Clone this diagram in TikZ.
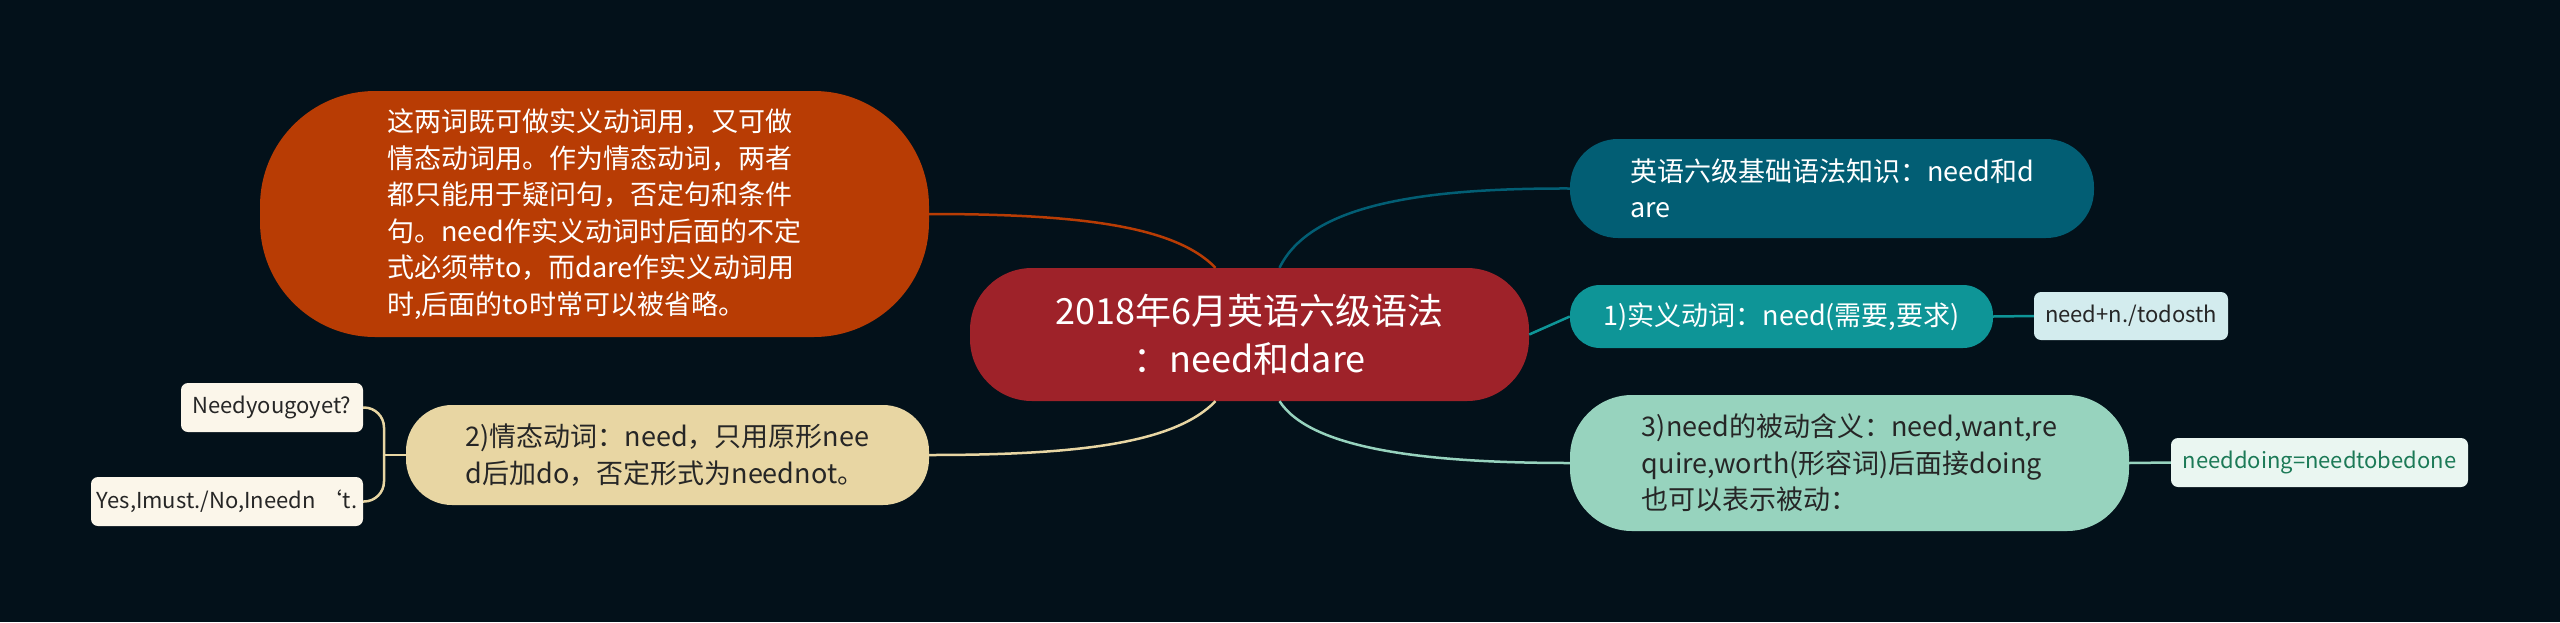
\documentclass[tikz,border=0pt]{standalone}
\usepackage{fontspec}
\setmainfont{Noto Sans CJK SC}
\definecolor{bg}{HTML}{03111A}
\definecolor{cred}{HTML}{9E2229}
\definecolor{corange}{HTML}{B83C04}
\definecolor{ctan}{HTML}{E8D6A3}
\definecolor{cpale}{HTML}{FBF6EA}
\definecolor{cdteal}{HTML}{025E74}
\definecolor{cteal}{HTML}{0E9597}
\definecolor{cice}{HTML}{D3ECEE}
\definecolor{cmint}{HTML}{97D3BE}
\definecolor{cmintbox}{HTML}{EAF6F1}
\definecolor{cmintxt}{HTML}{1C7A57}
\definecolor{cdark}{HTML}{262626}
\tikzset{
  base/.style={inner sep=0pt, align=left, anchor=center},
  bigtxt/.style={font=\fontsize{27}{36.5}\selectfont},
  smalltxt/.style={font=\fontsize{22}{27}\selectfont},
  pill/.style={base, bigtxt, rounded corners=#1},
  tag/.style={base, smalltxt, rounded corners=7pt},
  link/.style={line width=2.5pt},
}
\begin{document}
\begin{tikzpicture}[x=1pt,y=-1pt]
\fill[bg] (0,0) rectangle (2560,622);
\useasboundingbox (0,0) rectangle (2560,622);

% central
\node[base, fill=cred, text=white, rounded corners=62pt, minimum width=559pt, minimum height=133pt,
      align=center, font=\fontsize{36}{48}\selectfont] (center) at (1249.5,334.5)
  {2018年6月英语六级语法\\：need和dare};

% left side
\node[pill=115pt, fill=corange, text=white, minimum width=669pt, minimum height=246pt] (orange) at (594.5,214)
  {这两词既可做实义动词用，又可做\\情态动词用。作为情态动词，两者\\都只能用于疑问句，否定句和条件\\句。need作实义动词时后面的不定\\式必须带to，而dare作实义动词用\\时,后面的to时常可以被省略。};
\node[pill=46pt, fill=ctan, text=cdark, minimum width=523pt, minimum height=100pt] (tan) at (667.5,455)
  {2)情态动词：need，只用原形nee\\d后加do，否定形式为neednot。};
\node[tag, fill=cpale, text=cdark, minimum width=182pt, minimum height=49pt] (q1) at (272,407.5) {Needyougoyet?};
\node[tag, fill=cpale, text=cdark, minimum width=272pt, minimum height=49pt] (q2) at (227,501.5) {Yes,Imust./No,Ineedn ‘t.};

% right side
\node[pill=48pt, fill=cdteal, text=white, minimum width=524pt, minimum height=99pt] (dteal) at (1832,188.5)
  {英语六级基础语法知识：need和d\\are};
\node[pill=30pt, fill=cteal, text=white, minimum width=423pt, minimum height=63pt] (t1) at (1781.5,316.5)
  {1)实义动词：need(需要,要求)};
\node[tag, fill=cice, text=cdark, minimum width=194pt, minimum height=48pt] (needn) at (2131,316) {need+n./todosth};
\node[pill=62pt, fill=cmint, text=cdark, minimum width=559pt, minimum height=136pt] (mint) at (1849.5,463)
  {3)need的被动含义：need,want,re\\quire,worth(形容词)后面接doing\\也可以表示被动：};
\node[tag, fill=cmintbox, text=cmintxt, minimum width=297pt, minimum height=49pt] (nd) at (2319.5,462.5) {needdoing=needtobedone};

% anchor points on the central node
\coordinate (cNW) at ([xshift=-34pt]center.north);
\coordinate (cSW) at ([xshift=-34pt]center.south);
\coordinate (cNE) at ([xshift=30pt]center.north);
\coordinate (cSE) at ([xshift=30pt]center.south);
\coordinate (jn) at (384,455);

\draw[link, draw=corange] (orange.east) .. controls (1080,214) and (1175,226) .. (cNW);
\draw[link, draw=ctan] (tan.east) .. controls (1080,455) and (1175,443) .. (cSW);
\draw[link, draw=cdteal] (cNE) .. controls (1310,205) and (1420,188) .. (dteal.west);
\draw[link, draw=cmint] (cSE) .. controls (1310,448) and (1420,463) .. (mint.west);
\draw[link, draw=cteal] (center.east) -- (t1.west);
\draw[link, draw=cteal] (t1.east) -- (needn.west);
\draw[link, draw=cmint] (mint.east) -- (nd.west);
\draw[link, draw=ctan] (tan.west) -- (jn);
\draw[link, draw=ctan, rounded corners=20pt] (jn) |- (q1.east);
\draw[link, draw=ctan, rounded corners=20pt] (jn) |- (q2.east);
\end{tikzpicture}
\end{document}
